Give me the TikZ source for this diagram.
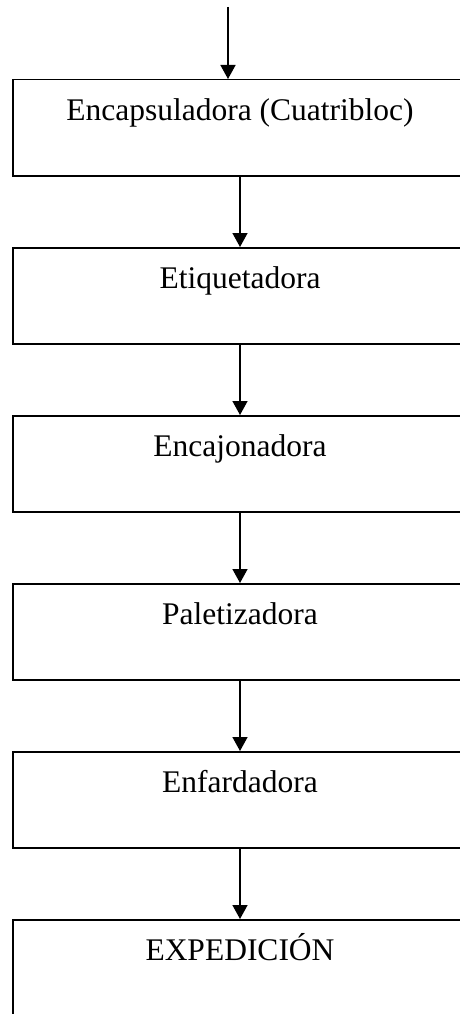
\documentclass[tikz,border=0pt]{standalone}
\usepackage{fontspec}
\setmainfont{Liberation Serif}
\usetikzlibrary{arrows.meta}
\tikzset{
	etapa/.style={draw, line width=1.5pt, rectangle, inner sep=0pt,
		minimum width=454pt, minimum height=96pt,
		text height=41pt, text depth=55pt,
		font=\fontsize{31.5}{36}\selectfont},
	flecha/.style={line width=1.5pt, -{Triangle[width=15pt,length=14pt]}}
}
\begin{document}
\begin{tikzpicture}[x=1pt,y=-1pt]
	\clip (0,0) rectangle (460,1014);
	
	\coordinate (entrada) at (228,7);
	
	\foreach \etiq[count=\j from 0] in {Encapsuladora (Cuatribloc),Etiquetadora,Encajonadora,Paletizadora,Enfardadora,EXPEDICIÓN}
	{
		\def\y{79+168*\j}
		\node[etapa, anchor=north] (e\j) at (240,{\y}) {\etiq};
	}
	
	\draw[flecha] (entrada) -- (entrada |- e0.north);
	\foreach \j[count=\k from 1] in {0,...,4}
	{
		\draw[flecha] (e\j.south) -- (e\k.north);
	}
\end{tikzpicture}
\end{document}
